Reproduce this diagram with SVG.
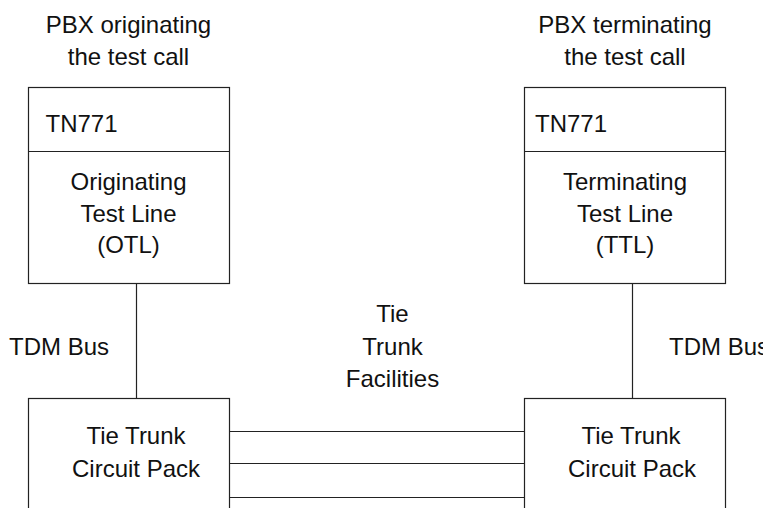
<svg xmlns="http://www.w3.org/2000/svg" width="763" height="508" viewBox="0 0 763 508">
<style>
text{font-family:"Liberation Sans",Arial,sans-serif;font-size:24px;fill:#111}
.c{text-anchor:middle}
.box{fill:#fff;stroke:#222;stroke-width:1.2}
.ln{stroke:#222;stroke-width:1.2;fill:none}
</style>
<rect width="763" height="508" fill="#fff"/>
<g id="labels">
<text class="c" x="128.5" y="33">PBX originating</text>
<text class="c" x="128.5" y="65">the test call</text>
<text class="c" x="625" y="33">PBX terminating</text>
<text class="c" x="625" y="65">the test call</text>
<text x="9" y="355">TDM Bus</text>
<text x="669" y="355">TDM Bus</text>
<text class="c" x="392.5" y="322">Tie</text>
<text class="c" x="392.5" y="355">Trunk</text>
<text class="c" x="392.5" y="387">Facilities</text>
</g>
<g id="connectors">
<line class="ln" x1="136.5" y1="283" x2="136.5" y2="398"/>
<line class="ln" x1="632.5" y1="283" x2="632.5" y2="398"/>
<line class="ln" x1="229" y1="431.5" x2="524" y2="431.5"/>
<line class="ln" x1="229" y1="463.5" x2="524" y2="463.5"/>
<line class="ln" x1="229" y1="497.5" x2="524" y2="497.5"/>
</g>
<g id="otl">
<rect class="box" x="28.5" y="87.5" width="201" height="196"/>
<line class="ln" x1="28.5" y1="151.5" x2="229.5" y2="151.5"/>
<text x="45.5" y="132">TN771</text>
<text class="c" x="128.5" y="190">Originating</text>
<text class="c" x="128.5" y="222">Test Line</text>
<text class="c" x="128.5" y="253">(OTL)</text>
</g>
<g id="ttl">
<rect class="box" x="524.5" y="87.5" width="201" height="196"/>
<line class="ln" x1="524.5" y1="151.5" x2="725.5" y2="151.5"/>
<text x="535" y="132">TN771</text>
<text class="c" x="625" y="190">Terminating</text>
<text class="c" x="625" y="222">Test Line</text>
<text class="c" x="625" y="253">(TTL)</text>
</g>
<g id="left-pack">
<rect class="box" x="28.5" y="398.5" width="201" height="130"/>
<text class="c" x="136" y="444">Tie Trunk</text>
<text class="c" x="136" y="476.5">Circuit Pack</text>
</g>
<g id="right-pack">
<rect class="box" x="524.5" y="398.5" width="201" height="130"/>
<text class="c" x="631" y="444">Tie Trunk</text>
<text class="c" x="632" y="476.5">Circuit Pack</text>
</g>
</svg>
